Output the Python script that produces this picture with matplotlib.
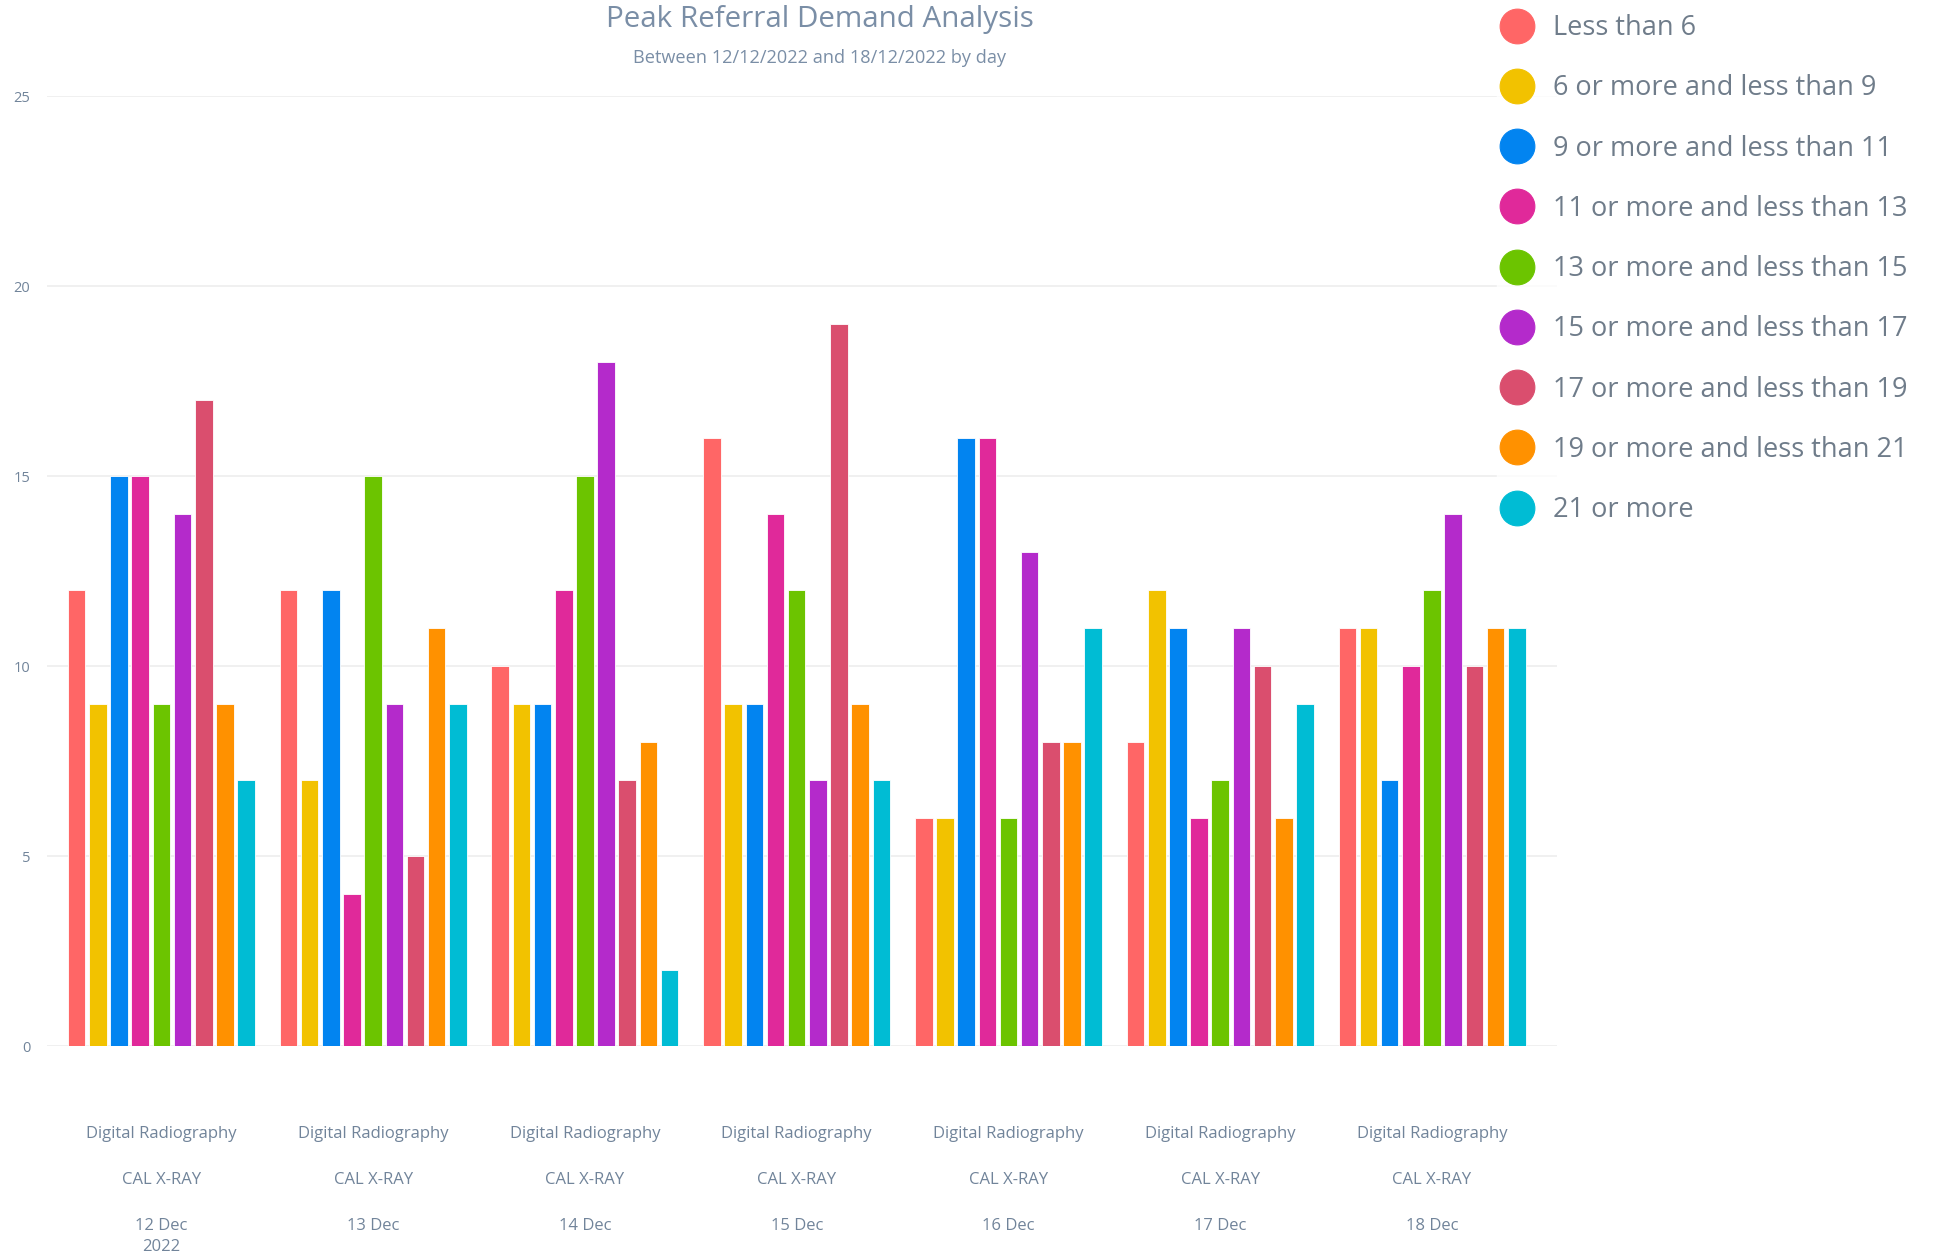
import numpy as np
import matplotlib.pyplot as plt
from matplotlib.lines import Line2D
from matplotlib.transforms import blended_transform_factory

plt.rcParams['font.family'] = ['Open Sans', 'DejaVu Sans']

# -- data --
days = ["12 Dec\n2022", "13 Dec", "14 Dec", "15 Dec", "16 Dec", "17 Dec", "18 Dec"]
modality = "Digital Radiography"
site = "CAL X-RAY"
bands = ["Less than 6", "6 or more and less than 9", "9 or more and less than 11",
         "11 or more and less than 13", "13 or more and less than 15",
         "15 or more and less than 17", "17 or more and less than 19",
         "19 or more and less than 21", "21 or more"]
less_than_6 = [12, 12, 10, 16, 6, 8, 11]
from_6_to_9 = [9, 7, 9, 9, 6, 12, 11]
from_9_to_11 = [15, 12, 9, 9, 16, 11, 7]
from_11_to_13 = [15, 4, 12, 14, 16, 6, 10]
from_13_to_15 = [9, 15, 15, 12, 6, 7, 12]
from_15_to_17 = [14, 9, 18, 7, 13, 11, 14]
from_17_to_19 = [17, 5, 7, 19, 8, 10, 10]
from_19_to_21 = [9, 11, 8, 9, 8, 6, 11]
over_21 = [7, 9, 2, 7, 11, 9, 11]
series = [less_than_6, from_6_to_9, from_9_to_11, from_11_to_13, from_13_to_15,
          from_15_to_17, from_17_to_19, from_19_to_21, over_21]
colors = ["#FF6666", "#F2C200", "#0284F0", "#E0299A", "#6CC400",
          "#B42ACB", "#DA4E6E", "#FF9100", "#00BCD4"]

text_color = "#71849A"

fig = plt.figure(figsize=(19.34, 12.56), dpi=100)
ax = fig.add_axes([47 / 1934, 1 - 1046 / 1256, (1557 - 47) / 1934, (1046 - 96) / 1256])

x = np.arange(len(days))
pitch = 0.1
width = 0.083
for i, (vals, col) in enumerate(zip(series, colors)):
    ax.bar(x + (i - 4) * pitch, vals, width=width, color=col,
           edgecolor='white', linewidth=0.6, zorder=3)

ax.set_xlim(-0.54, 6.59)
ax.set_ylim(0, 25)
ax.set_yticks([0, 5, 10, 15, 20, 25])
ax.grid(axis='y', color='#EDEDED', linewidth=1.2, zorder=0)
ax.tick_params(axis='y', length=0, pad=12, labelsize=10.5, labelcolor=text_color)
ax.set_xticks([])
for s in ax.spines.values():
    s.set_visible(False)

# category labels under each group
trans = blended_transform_factory(ax.transData, ax.transAxes)
for xi, day in zip(x, days):
    ax.text(xi, -0.093, modality, transform=trans, ha='center', va='center',
            fontsize=12, color=text_color)
    ax.text(xi, -0.1415, site, transform=trans, ha='center', va='center',
            fontsize=12, color=text_color)
    ax.text(xi, -0.181, day, transform=trans, ha='center', va='top',
            fontsize=12, color=text_color, linespacing=1.4)

fig.text(820 / 1934, 1 - 19 / 1256, "Peak Referral Demand Analysis", ha='center',
         va='center', fontsize=21.3, color="#7A8EA6")
fig.text(820 / 1934, 1 - 58 / 1256, "Between 12/12/2022 and 18/12/2022 by day",
         ha='center', va='center', fontsize=13.1, color="#7A8EA6")

handles = [Line2D([], [], linestyle='none', marker='o', markersize=25,
                  markerfacecolor=c, markeredgecolor=c, markeredgewidth=0.8)
           for c in colors]
leg = fig.legend(handles, bands, loc='upper left', bbox_to_anchor=(1497 / 1934, 0.993),
                 frameon=True, fontsize=19.5, labelspacing=1.19, handletextpad=0.75,
                 handlelength=1.1, borderaxespad=0.0, borderpad=0.2)
leg.get_frame().set_facecolor('white')
leg.get_frame().set_edgecolor('white')
for t in leg.get_texts():
    t.set_color("#6F7C8A")

fig.savefig("out.png", dpi=100, facecolor='white')
